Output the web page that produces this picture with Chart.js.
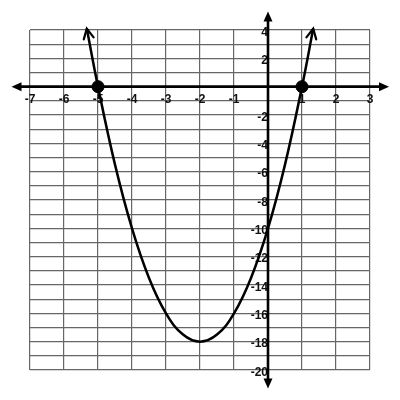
<!DOCTYPE html>
<html>
<head>
<meta charset="utf-8">
<script src="https://cdn.jsdelivr.net/npm/chart.js@4.4.1/dist/chart.umd.min.js"></script>
<style>
html,body{margin:0;padding:0;background:#fff;}
#wrap{width:400px;height:400px;}
</style>
</head>
<body>
<div id="wrap"><canvas id="c" width="400" height="400"></canvas></div>
<script>
// Curve points
const curveX = [-5.33, -5, -4.5, -4, -3.5, -3, -2.5, -2, -1.5, -1, -0.5, 0, 0.5, 1, 1.33];
const curveY = [4.1, 0, -5.5, -10, -13.5, -16, -17.5, -18, -17.5, -16, -13.5, -10, -5.5, 0, 4.1];
// Marked x-intercepts
const rootX = [-5, 1];
const rootY = [0, 0];
// Axis ranges and tick labels
const xMin = -7, xMax = 3;
const yMin = -20, yMax = 4;
const xTickLabels = [-7, -6, -5, -4, -3, -2, -1, 1, 2, 3];
const yTickLabels = [4, 2, -2, -4, -6, -8, -10, -12, -14, -16, -18, -20];

const curveData = curveX.map((x, i) => ({x, y: curveY[i]}));
const rootData = rootX.map((x, i) => ({x, y: rootY[i]}));

function arrowHead(ctx, tipX, tipY, fromX, fromY, len, half, filled) {
  const a = Math.atan2(tipY - fromY, tipX - fromX);
  const bx = tipX - len * Math.cos(a), by = tipY - len * Math.sin(a);
  const px = -Math.sin(a), py = Math.cos(a);
  ctx.beginPath();
  if (filled) {
    ctx.moveTo(tipX, tipY);
    ctx.lineTo(bx + px * half, by + py * half);
    ctx.lineTo(bx - px * half, by - py * half);
    ctx.closePath();
    ctx.fill();
  } else {
    ctx.moveTo(bx + px * half, by + py * half);
    ctx.lineTo(tipX, tipY);
    ctx.lineTo(bx - px * half, by - py * half);
    ctx.stroke();
  }
}

const axesPlugin = {
  id: 'axesArrows',
  beforeDatasetsDraw(chart) {
    const ctx = chart.ctx;
    const xs = chart.scales.x, ys = chart.scales.y;
    const x0 = xs.getPixelForValue(0), y0 = ys.getPixelForValue(0);
    ctx.save();
    ctx.strokeStyle = '#000';
    ctx.fillStyle = '#000';
    ctx.lineWidth = 2.6;
    // x axis
    ctx.beginPath();
    ctx.moveTo(18, y0); ctx.lineTo(382, y0); ctx.stroke();
    arrowHead(ctx, 11.5, y0, 30, y0, 10, 4.5, true);
    arrowHead(ctx, 389, y0, 370, y0, 10, 4.5, true);
    // y axis
    ctx.beginPath();
    ctx.moveTo(x0, 18); ctx.lineTo(x0, 382); ctx.stroke();
    arrowHead(ctx, x0, 11.5, x0, 30, 10, 4.5, true);
    arrowHead(ctx, x0, 388.5, x0, 370, 10, 4.5, true);
    ctx.restore();
  },
  afterDatasetsDraw(chart) {
    const ctx = chart.ctx;
    const pts = chart.getDatasetMeta(0).data;
    const n = pts.length;
    ctx.save();
    ctx.strokeStyle = '#000';
    ctx.lineWidth = 2.2;
    ctx.lineCap = 'round';
    ctx.lineJoin = 'miter';
    arrowHead(ctx, pts[0].x, pts[0].y, pts[1].x, pts[1].y, 10, 5, false);
    arrowHead(ctx, pts[n-1].x, pts[n-1].y, pts[n-2].x, pts[n-2].y, 10, 5, false);
    ctx.restore();
  }
};

new Chart(document.getElementById('c'), {
  type: 'scatter',
  data: {
    datasets: [
      {
        data: curveData,
        showLine: true,
        borderColor: '#000',
        borderWidth: 2.5,
        tension: 0.4,
        pointRadius: 0,
        clip: false,
        order: 2
      },
      {
        data: rootData,
        showLine: false,
        pointRadius: 6,
        pointBackgroundColor: '#000',
        pointBorderColor: '#000',
        pointBorderWidth: 1,
        clip: false,
        order: 1
      }
    ]
  },
  plugins: [axesPlugin],
  options: {
    responsive: false,
    animation: false,
    devicePixelRatio: 1,
    layout: { padding: { left: 30, right: 30, top: 30, bottom: 30 } },
    plugins: { legend: { display: false }, tooltip: { enabled: false } },
    scales: {
      x: {
        type: 'linear',
        min: xMin, max: xMax,
        position: { y: 0 },
        afterFit(s) { s.height = 0; },
        border: { display: false },
        grid: { color: '#666', lineWidth: 1.2, drawTicks: false },
        ticks: {
          stepSize: 1,
          padding: 6,
          color: '#111',
          font: { family: 'Liberation Sans, Arial, sans-serif', size: 12, weight: 'bold' },
          maxRotation: 0,
          autoSkip: false,
          callback: (v) => xTickLabels.includes(v) ? String(v) : ''
        }
      },
      y: {
        type: 'linear',
        min: yMin, max: yMax,
        position: { x: 0 },
        afterFit(s) { s.width = 0; },
        border: { display: false },
        grid: { color: '#666', lineWidth: 1.2, drawTicks: false },
        ticks: {
          stepSize: 1,
          padding: 6,
          labelOffset: 2.5,
          color: '#111',
          font: { family: 'Liberation Sans, Arial, sans-serif', size: 12, weight: 'bold' },
          autoSkip: false,
          callback: (v) => yTickLabels.includes(v) ? String(v) : ''
        }
      }
    }
  }
});
</script>
</body>
</html>
